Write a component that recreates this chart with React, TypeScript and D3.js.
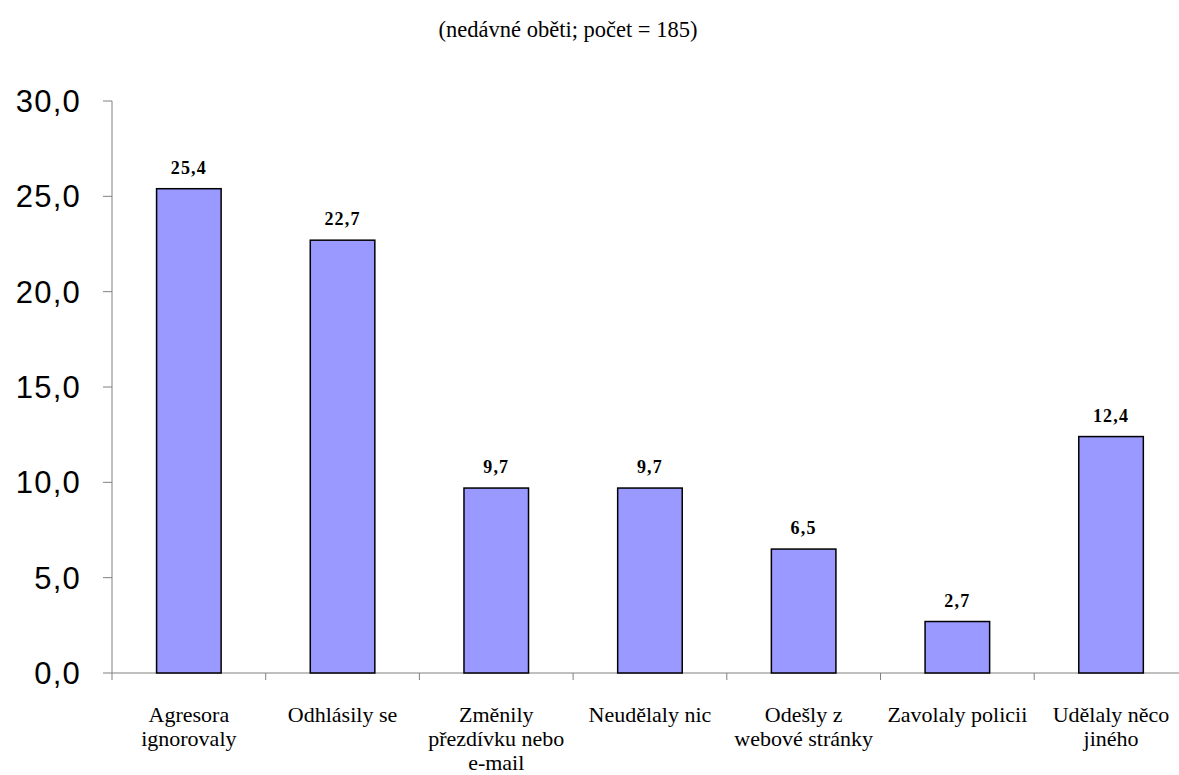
import React from "react";
import * as d3 from "d3";

const categories: string[][] = [
  ["Agresora", "ignorovaly"],
  ["Odhlásily se"],
  ["Změnily", "přezdívku nebo", "e-mail"],
  ["Neudělaly nic"],
  ["Odešly z", "webové stránky"],
  ["Zavolaly policii"],
  ["Udělaly něco", "jiného"],
];
const values: number[] = [25.4, 22.7, 9.7, 9.7, 6.5, 2.7, 12.4];
const yTicks: number[] = [0, 5, 10, 15, 20, 25, 30];
const title = "(nedávné oběti; počet = 185)";

const W = 1179;
const H = 775;
const left = 112;
const band = 153.7;
const top = 101;
const bottom = 673;

export default function App() {
  const idx = categories.map((_, i) => String(i));
  const x = d3
    .scaleBand<string>()
    .domain(idx)
    .range([left, left + band * categories.length])
    .paddingInner(0.58)
    .paddingOuter(0.29);
  const y = d3.scaleLinear().domain([0, 30]).range([bottom, top]);
  const fmt = (v: number) => v.toFixed(1).replace(".", ",");
  const serifStyle = { fontFamily: '"Liberation Serif", "Times New Roman", "DejaVu Serif", serif' };
  const sansStyle = { fontFamily: '"Liberation Sans", Arial, sans-serif' };
  const axisColor = "#808080";
  return (
    <svg
      width={W}
      height={H}
      style={{ position: "absolute", left: 0, top: 0, background: "#fff" }}
    >
      <text x={568} y={37} textAnchor="middle" style={serifStyle} fontSize={22.5} fill="#000">
        {title}
      </text>
      <line x1={left} x2={left} y1={top} y2={bottom} stroke={axisColor} strokeWidth={1} />
      {yTicks.map((t) => (
        <g key={t}>
          <line x1={left - 9} x2={left} y1={y(t)} y2={y(t)} stroke={axisColor} />
          <text
            x={81}
            y={y(t)}
            dy="0.36em"
            textAnchor="end"
            style={sansStyle}
            fontSize={31}
            letterSpacing={1.2}
            fill="#000"
          >
            {fmt(t)}
          </text>
        </g>
      ))}
      <line x1={left} x2={W} y1={bottom} y2={bottom} stroke={axisColor} />
      {d3.range(categories.length + 1).map((i) => (
        <line
          key={i}
          x1={left + i * band}
          x2={left + i * band}
          y1={bottom}
          y2={bottom + 7}
          stroke={axisColor}
        />
      ))}
      {values.map((v, i) => {
        const bx = x(String(i))!;
        const bw = x.bandwidth();
        return (
          <g key={i}>
            <rect
              x={bx}
              y={y(v)}
              width={bw}
              height={bottom - y(v)}
              fill="#9999ff"
              stroke="#000"
              strokeWidth={1.5}
            />
            <text
              x={bx + bw / 2}
              y={y(v) - 15}
              textAnchor="middle"
              style={serifStyle}
              fontWeight="bold"
              fontSize={18}
              letterSpacing={1.2}
              fill="#000"
            >
              {fmt(v)}
            </text>
            {categories[i].map((line, j) => (
              <text
                key={j}
                x={bx + bw / 2}
                y={722 + j * 24}
                textAnchor="middle"
                style={serifStyle}
                fontSize={22}
                fill="#000"
              >
                {line}
              </text>
            ))}
          </g>
        );
      })}
    </svg>
  );
}
